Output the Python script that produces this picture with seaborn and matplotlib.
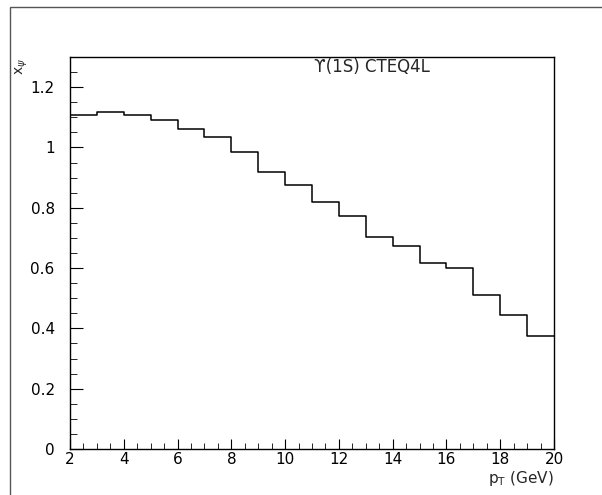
import matplotlib

matplotlib.use("Agg")
import matplotlib.pyplot as plt
import numpy as np
import seaborn as sns
from matplotlib.patches import Rectangle
from matplotlib.ticker import MultipleLocator

# bin edges in pT (GeV) and the histogram contents
bin_edges = list(range(2, 21))
bin_values = [1.107, 1.117, 1.106, 1.091, 1.062, 1.034, 0.984, 0.920, 0.875,
              0.820, 0.772, 0.704, 0.673, 0.618, 0.601, 0.512, 0.446, 0.375]
label_text = "\u03d2(1S) CTEQ4L"
x_label = "p$_\\mathrm{T}$ (GeV)"
y_label = "x$_\\psi$"

sns.set_style("white")
plt.rcParams["font.family"] = ["DejaVu Sans"]

centers = np.array(bin_edges[:-1]) + 0.5

fig = plt.figure(figsize=(6.02, 4.95), dpi=100)
ax = fig.add_axes([70 / 602, 46 / 495, 484 / 602, 392 / 495])

sns.histplot(x=centers, weights=bin_values, bins=bin_edges, element="step",
             fill=False, color="black", linewidth=1.1, ax=ax)

ax.set_xlim(2, 20)
ax.set_ylim(0, 1.3)
ax.xaxis.set_major_locator(MultipleLocator(2))
ax.xaxis.set_minor_locator(MultipleLocator(0.5))
ax.yaxis.set_major_locator(MultipleLocator(0.2))
ax.yaxis.set_minor_locator(MultipleLocator(0.05))
ax.yaxis.set_major_formatter(matplotlib.ticker.FuncFormatter(lambda v, p: f"{v:g}"))
ax.tick_params(which="both", direction="in", colors="black", labelsize=11)
ax.tick_params(axis="y", which="major", length=9, pad=11, left=True)
ax.tick_params(axis="y", which="minor", length=5, left=True)
ax.tick_params(axis="x", which="major", length=7, pad=2, bottom=True)
ax.tick_params(axis="x", which="minor", length=4, bottom=True)
for s in ax.spines.values():
    s.set_color("black")
    s.set_linewidth(1.0)

ax.set_xlabel("")
ax.set_ylabel("")
fig.text(554 / 602, 1 - 479 / 495, x_label, ha="right", va="center", fontsize=11)
fig.text(22 / 602, 1 - 67 / 495, y_label, ha="center", va="center",
         fontsize=10, rotation=90)
ax.text(314 / 602, 1 - 67 / 495, label_text, transform=fig.transFigure,
        ha="left", va="center", fontsize=12)

# outer frame of the canvas
fig.patches.append(Rectangle((10 / 602, -0.1), 1.2, 1.1 - 7 / 495,
                             transform=fig.transFigure, fill=False,
                             edgecolor="#555555", linewidth=1.0))

fig.savefig("out.png", dpi=100)
plt.close(fig)
